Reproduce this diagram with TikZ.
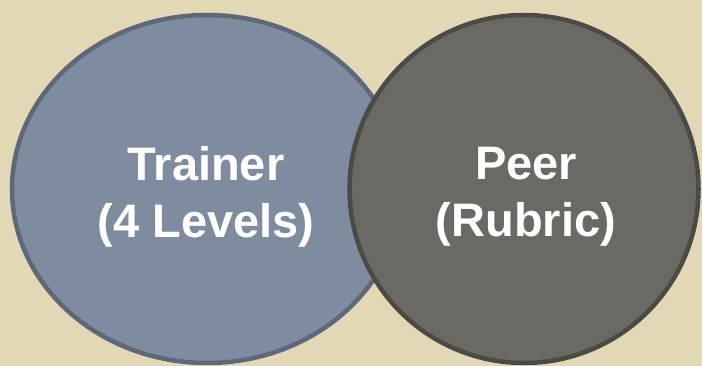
\documentclass[tikz,border=0pt]{standalone}
\usepackage{fontspec}
\setmainfont{Liberation Sans}
\usetikzlibrary{shapes.geometric}
\definecolor{paper}{HTML}{E2D8B5}
\definecolor{trainfill}{HTML}{7F8CA0}
\definecolor{trainline}{HTML}{5E6878}
\definecolor{peerfill}{HTML}{6B6963}
\definecolor{peerline}{HTML}{4B4B46}

\begin{document}
\begin{tikzpicture}[x=1pt,y=-1pt,
  oval/.style={ellipse, line width=4.5pt, inner sep=0pt},
  label/.style={text=white, align=center, font=\fontsize{47}{57}\selectfont\bfseries}]
\useasboundingbox (0,0) rectangle (702,366);
\fill[paper] (0,0) rectangle (702,366);
\node[oval, fill=trainfill, draw=trainline, minimum width=390pt, minimum height=348pt] (trainer) at (207,189) {};
\node[oval, fill=peerfill, draw=peerline, minimum width=349pt, minimum height=348pt] (peer) at (524,189) {};
\node[label] (trainertext) at (206,197) {Trainer\\(4 Levels)};
\node[label] (peertext) at (526,197) {Peer\\(Rubric)};
\end{tikzpicture}
\end{document}
